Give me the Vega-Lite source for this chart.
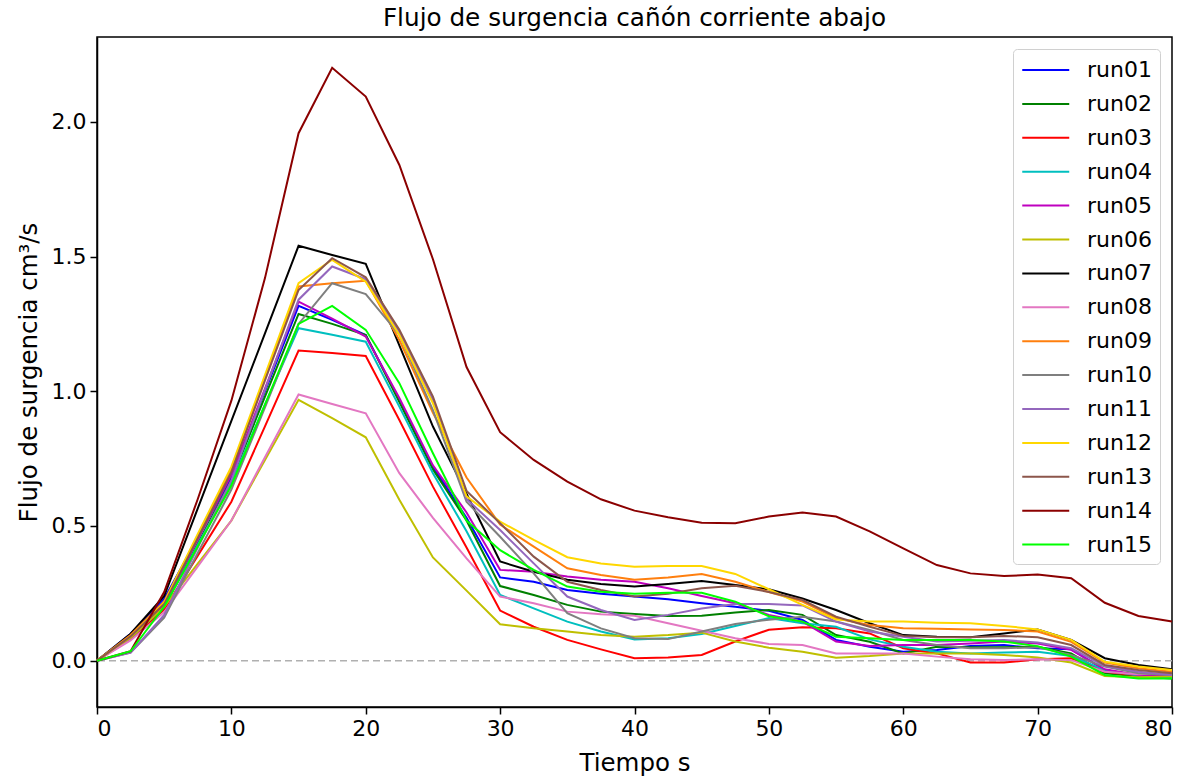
{
  "$schema": "https://vega.github.io/schema/vega-lite/v6.json",
  "width": 1075,
  "height": 670,
  "autosize": {"type": "none"},
  "padding": {"left": 97, "top": 37, "right": 21, "bottom": 70},
  "background": "white",
  "config": {
    "font": "DejaVu Sans",
    "view": {"stroke": "black", "strokeWidth": 1.5},
    "axis": {
      "grid": false,
      "domainColor": "black",
      "domainWidth": 1.5,
      "tickColor": "black",
      "tickWidth": 1.5,
      "tickSize": 7,
      "labelFontSize": 22,
      "labelColor": "black",
      "labelPadding": 4,
      "titleFontSize": 24.5,
      "titleFontWeight": "normal",
      "titleColor": "black"
    }
  },
  "title": {
    "text": "Flujo de surgencia cañón corriente abajo",
    "fontSize": 24.7,
    "fontWeight": "normal",
    "color": "black",
    "anchor": "middle",
    "offset": 6
  },
  "layer": [
    {
      "data": {"values": [{"y": 0}]},
      "mark": {"type": "rule", "color": "#b0b0b0", "strokeWidth": 1.5, "strokeDash": [7, 4]},
      "encoding": {
        "y": {"field": "y", "type": "quantitative", "scale": {"domain": [-0.172, 2.315], "nice": false, "zero": false}}
      }
    },
    {
      "data": {
        "values": [
          {"t": 0, "run01": 0, "run02": 0, "run03": 0, "run04": 0, "run05": 0, "run06": 0, "run07": 0, "run08": 0, "run09": 0, "run10": 0, "run11": 0, "run12": 0, "run13": 0, "run14": 0, "run15": 0},
          {"t": 2.5, "run01": 0.10, "run02": 0.09, "run03": 0.08, "run04": 0.085, "run05": 0.09, "run06": 0.085, "run07": 0.10, "run08": 0.075, "run09": 0.095, "run10": 0.03, "run11": 0.03, "run12": 0.09, "run13": 0.09, "run14": 0.035, "run15": 0.035},
          {"t": 5, "run01": 0.23, "run02": 0.20, "run03": 0.19, "run04": 0.20, "run05": 0.21, "run06": 0.20, "run07": 0.24, "run08": 0.18, "run09": 0.22, "run10": 0.16, "run11": 0.17, "run12": 0.215, "run13": 0.21, "run14": 0.255, "run15": 0.20},
          {"t": 7.5, "run01": 0.455, "run02": 0.435, "run03": 0.39, "run04": 0.43, "run05": 0.45, "run06": 0.36, "run07": 0.565, "run08": 0.35, "run09": 0.465, "run10": 0.40, "run11": 0.42, "run12": 0.47, "run13": 0.455, "run14": 0.60, "run15": 0.425},
          {"t": 10, "run01": 0.68, "run02": 0.67, "run03": 0.59, "run04": 0.66, "run05": 0.69, "run06": 0.52, "run07": 0.89, "run08": 0.52, "run09": 0.71, "run10": 0.635, "run11": 0.67, "run12": 0.72, "run13": 0.70, "run14": 0.965, "run15": 0.65},
          {"t": 12.5, "run01": 1.0, "run02": 0.98, "run03": 0.87, "run04": 0.95, "run05": 1.01, "run06": 0.745, "run07": 1.215, "run08": 0.755, "run09": 1.05, "run10": 0.94, "run11": 1.005, "run12": 1.06, "run13": 1.04, "run14": 1.42, "run15": 0.95},
          {"t": 15, "run01": 1.317, "run02": 1.287, "run03": 1.151, "run04": 1.234, "run05": 1.333, "run06": 0.968, "run07": 1.54, "run08": 0.988, "run09": 1.389, "run10": 1.25, "run11": 1.34, "run12": 1.401, "run13": 1.376, "run14": 1.958, "run15": 1.25},
          {"t": 17.5, "run01": 1.265, "run02": 1.25, "run03": 1.142, "run04": 1.21, "run05": 1.27, "run06": 0.90, "run07": 1.506, "run08": 0.953, "run09": 1.401, "run10": 1.401, "run11": 1.463, "run12": 1.488, "run13": 1.494, "run14": 2.201, "run15": 1.317},
          {"t": 20, "run01": 1.209, "run02": 1.209, "run03": 1.131, "run04": 1.184, "run05": 1.203, "run06": 0.829, "run07": 1.473, "run08": 0.918, "run09": 1.41, "run10": 1.361, "run11": 1.416, "run12": 1.407, "run13": 1.423, "run14": 2.094, "run15": 1.228},
          {"t": 22.5, "run01": 0.968, "run02": 0.96, "run03": 0.893, "run04": 0.943, "run05": 0.975, "run06": 0.597, "run07": 1.17, "run08": 0.696, "run09": 1.19, "run10": 1.21, "run11": 1.22, "run12": 1.209, "run13": 1.228, "run14": 1.84, "run15": 1.03},
          {"t": 25, "run01": 0.72, "run02": 0.71, "run03": 0.646, "run04": 0.696, "run05": 0.725, "run06": 0.383, "run07": 0.869, "run08": 0.53, "run09": 0.92, "run10": 0.93, "run11": 0.968, "run12": 0.955, "run13": 0.98, "run14": 1.49, "run15": 0.77},
          {"t": 27.5, "run01": 0.53, "run02": 0.52, "run03": 0.42, "run04": 0.48, "run05": 0.55, "run06": 0.26, "run07": 0.62, "run08": 0.38, "run09": 0.68, "run10": 0.59, "run11": 0.60, "run12": 0.61, "run13": 0.63, "run14": 1.09, "run15": 0.52},
          {"t": 30, "run01": 0.309, "run02": 0.277, "run03": 0.186, "run04": 0.244, "run05": 0.337, "run06": 0.135, "run07": 0.368, "run08": 0.238, "run09": 0.505, "run10": 0.46, "run11": 0.485, "run12": 0.516, "run13": 0.51, "run14": 0.848, "run15": 0.41},
          {"t": 32.5, "run01": 0.293, "run02": 0.244, "run03": 0.126, "run04": 0.194, "run05": 0.33, "run06": 0.12, "run07": 0.33, "run08": 0.213, "run09": 0.423, "run10": 0.324, "run11": 0.361, "run12": 0.448, "run13": 0.386, "run14": 0.745, "run15": 0.337},
          {"t": 35, "run01": 0.262, "run02": 0.207, "run03": 0.077, "run04": 0.145, "run05": 0.312, "run06": 0.108, "run07": 0.30, "run08": 0.182, "run09": 0.343, "run10": 0.176, "run11": 0.238, "run12": 0.384, "run13": 0.293, "run14": 0.665, "run15": 0.275},
          {"t": 37.5, "run01": 0.248, "run02": 0.182, "run03": 0.042, "run04": 0.108, "run05": 0.30, "run06": 0.095, "run07": 0.285, "run08": 0.172, "run09": 0.318, "run10": 0.12, "run11": 0.188, "run12": 0.361, "run13": 0.262, "run14": 0.599, "run15": 0.256},
          {"t": 40, "run01": 0.238, "run02": 0.173, "run03": 0.009, "run04": 0.079, "run05": 0.293, "run06": 0.089, "run07": 0.275, "run08": 0.167, "run09": 0.30, "run10": 0.083, "run11": 0.151, "run12": 0.349, "run13": 0.238, "run14": 0.557, "run15": 0.248},
          {"t": 42.5, "run01": 0.228, "run02": 0.166, "run03": 0.012, "run04": 0.083, "run05": 0.269, "run06": 0.095, "run07": 0.285, "run08": 0.139, "run09": 0.309, "run10": 0.08, "run11": 0.17, "run12": 0.351, "run13": 0.248, "run14": 0.532, "run15": 0.252},
          {"t": 45, "run01": 0.213, "run02": 0.167, "run03": 0.021, "run04": 0.099, "run05": 0.24, "run06": 0.104, "run07": 0.296, "run08": 0.111, "run09": 0.322, "run10": 0.108, "run11": 0.194, "run12": 0.351, "run13": 0.269, "run14": 0.512, "run15": 0.252},
          {"t": 47.5, "run01": 0.20, "run02": 0.179, "run03": 0.071, "run04": 0.129, "run05": 0.213, "run06": 0.071, "run07": 0.281, "run08": 0.083, "run09": 0.293, "run10": 0.136, "run11": 0.21, "run12": 0.322, "run13": 0.278, "run14": 0.51, "run15": 0.219},
          {"t": 50, "run01": 0.185, "run02": 0.188, "run03": 0.115, "run04": 0.158, "run05": 0.17, "run06": 0.048, "run07": 0.265, "run08": 0.062, "run09": 0.255, "run10": 0.152, "run11": 0.21, "run12": 0.265, "run13": 0.255, "run14": 0.535, "run15": 0.165},
          {"t": 52.5, "run01": 0.151, "run02": 0.17, "run03": 0.124, "run04": 0.139, "run05": 0.145, "run06": 0.033, "run07": 0.231, "run08": 0.058, "run09": 0.219, "run10": 0.163, "run11": 0.205, "run12": 0.207, "run13": 0.225, "run14": 0.55, "run15": 0.145},
          {"t": 55, "run01": 0.077, "run02": 0.095, "run03": 0.12, "run04": 0.126, "run05": 0.071, "run06": 0.011, "run07": 0.188, "run08": 0.027, "run09": 0.157, "run10": 0.145, "run11": 0.145, "run12": 0.153, "run13": 0.163, "run14": 0.535, "run15": 0.089},
          {"t": 57.5, "run01": 0.052, "run02": 0.07, "run03": 0.101, "run04": 0.079, "run05": 0.054, "run06": 0.017, "run07": 0.139, "run08": 0.027, "run09": 0.132, "run10": 0.114, "run11": 0.108, "run12": 0.145, "run13": 0.126, "run14": 0.48, "run15": 0.083},
          {"t": 60, "run01": 0.033, "run02": 0.027, "run03": 0.046, "run04": 0.052, "run05": 0.058, "run06": 0.027, "run07": 0.095, "run08": 0.027, "run09": 0.12, "run10": 0.077, "run11": 0.089, "run12": 0.145, "run13": 0.092, "run14": 0.417, "run15": 0.077},
          {"t": 62.5, "run01": 0.04, "run02": 0.052, "run03": 0.027, "run04": 0.033, "run05": 0.058, "run06": 0.027, "run07": 0.089, "run08": 0.015, "run09": 0.118, "run10": 0.058, "run11": 0.071, "run12": 0.141, "run13": 0.087, "run14": 0.355, "run15": 0.077},
          {"t": 65, "run01": 0.054, "run02": 0.05, "run03": -0.007, "run04": 0.027, "run05": 0.064, "run06": 0.027, "run07": 0.087, "run08": 0.005, "run09": 0.116, "run10": 0.046, "run11": 0.074, "run12": 0.139, "run13": 0.087, "run14": 0.324, "run15": 0.077},
          {"t": 67.5, "run01": 0.058, "run02": 0.05, "run03": -0.007, "run04": 0.03, "run05": 0.071, "run06": 0.021, "run07": 0.101, "run08": 0.002, "run09": 0.114, "run10": 0.046, "run11": 0.077, "run12": 0.129, "run13": 0.092, "run14": 0.314, "run15": 0.071},
          {"t": 70, "run01": 0.046, "run02": 0.052, "run03": 0.005, "run04": 0.033, "run05": 0.064, "run06": 0.012, "run07": 0.116, "run08": 0.005, "run09": 0.108, "run10": 0.05, "run11": 0.067, "run12": 0.116, "run13": 0.087, "run14": 0.32, "run15": 0.054},
          {"t": 72.5, "run01": 0.042, "run02": 0.027, "run03": 0.009, "run04": 0.017, "run05": 0.04, "run06": -0.007, "run07": 0.077, "run08": 0.002, "run09": 0.07, "run10": 0.021, "run11": 0.046, "run12": 0.077, "run13": 0.058, "run14": 0.306, "run15": 0.015},
          {"t": 75, "run01": -0.035, "run02": -0.047, "run03": -0.041, "run04": -0.035, "run05": -0.032, "run06": -0.057, "run07": 0.009, "run08": -0.041, "run09": -0.007, "run10": -0.022, "run11": -0.02, "run12": -0.004, "run13": -0.016, "run14": 0.215, "run15": -0.053},
          {"t": 77.5, "run01": -0.055, "run02": -0.059, "run03": -0.055, "run04": -0.055, "run05": -0.053, "run06": -0.062, "run07": -0.016, "run08": -0.05, "run09": -0.028, "run10": -0.047, "run11": -0.041, "run12": -0.022, "run13": -0.035, "run14": 0.166, "run15": -0.066},
          {"t": 80, "run01": -0.062, "run02": -0.066, "run03": -0.053, "run04": -0.062, "run05": -0.057, "run06": -0.059, "run07": -0.032, "run08": -0.045, "run09": -0.041, "run10": -0.053, "run11": -0.053, "run12": -0.035, "run13": -0.047, "run14": 0.145, "run15": -0.066}
        ]
      },
      "transform": [
        {"fold": ["run01", "run02", "run03", "run04", "run05", "run06", "run07", "run08", "run09", "run10", "run11", "run12", "run13", "run14", "run15"], "as": ["run", "flujo"]}
      ],
      "mark": {"type": "line", "strokeWidth": 2},
      "encoding": {
        "x": {
          "field": "t", "type": "quantitative",
          "scale": {"domain": [0, 80], "nice": false, "zero": false},
          "axis": {"values": [0, 10, 20, 30, 40, 50, 60, 70, 80], "format": "d", "title": "Tiempo s", "titlePadding": 12}
        },
        "y": {
          "field": "flujo", "type": "quantitative",
          "scale": {"domain": [-0.172, 2.315], "nice": false, "zero": false},
          "axis": {"values": [0, 0.5, 1, 1.5, 2], "format": ".1f", "title": "Flujo de surgencia cm³/s", "titlePadding": 10}
        },
        "color": {
          "field": "run", "type": "nominal",
          "scale": {
            "domain": ["run01", "run02", "run03", "run04", "run05", "run06", "run07", "run08", "run09", "run10", "run11", "run12", "run13", "run14", "run15"],
            "range": ["#0000ff", "#008000", "#ff0000", "#00bfbf", "#bf00bf", "#bfbf00", "#000000", "#e377c2", "#ff7f0e", "#7f7f7f", "#9467bd", "#ffd700", "#8c564b", "#8b0000", "#00ff00"]
          },
          "legend": {
            "title": null,
            "orient": "top-right",
            "offset": 12,
            "symbolType": "M-1,0H3",
            "symbolSize": 552,
            "symbolStrokeWidth": 2,
            "labelFontSize": 22,
            "labelColor": "black",
            "labelOffset": 40,
            "rowPadding": 9.9,
            "padding": 8,
            "fillColor": "white",
            "strokeColor": "#d0d0d0",
            "cornerRadius": 4
          }
        }
      }
    }
  ]
}
